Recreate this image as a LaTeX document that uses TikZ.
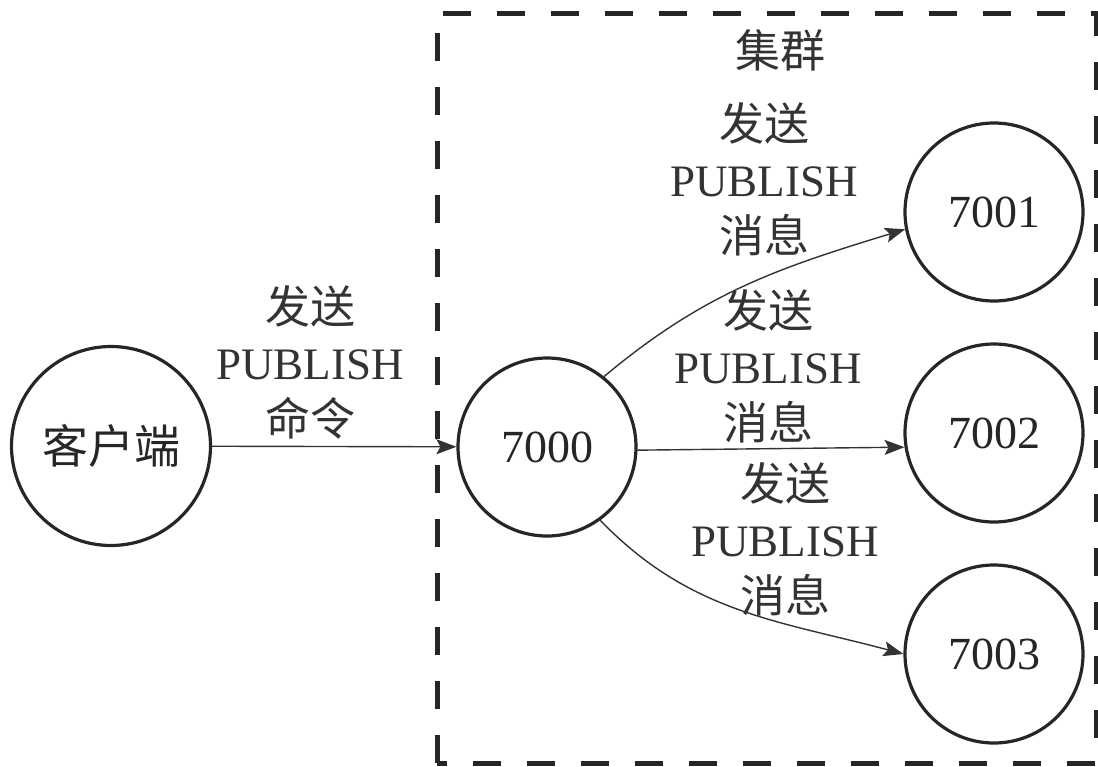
\documentclass[tikz,border=0pt]{standalone}
\usepackage{fontspec}
\setmainfont{Liberation Serif}
\newfontfamily\cjk{Noto Sans CJK SC}
\usetikzlibrary{arrows.meta}
\begin{document}
\begin{tikzpicture}[x=1pt,y=1pt,
  nd/.style={circle,draw=black!85,line width=3.2pt,minimum size=178pt,inner sep=0pt,text=black!85,font=\fontsize{46}{56}\selectfont},
  lbl/.style={align=center,inner sep=0pt,text=black!80,font=\fontsize{45}{56}\selectfont},
  conn/.style={line width=1.4pt,draw=black!80,-{Stealth[length=20pt,width=15pt,inset=4pt]}},
  clusterbox/.style={draw=black!85,line width=5pt,dash pattern=on 28pt off 26pt}]
\useasboundingbox (0,0) rectangle (1098,-766);
\draw[clusterbox] (437,-763) -- (437,-13) -- (1096,-13) -- (1096,-763) -- cycle;
\node[lbl] (title) at (780,-50) {\cjk 集群};
\node[nd,minimum size=199pt] (client) at (111,-446) {\cjk 客户端};
\node[nd] (n7000) at (547,-447) {7000};
\node[nd] (n7001) at (994,-212) {7001};
\node[nd] (n7002) at (994,-433) {7002};
\node[nd] (n7003) at (994,-654) {7003};
\draw[conn] (client) -- (n7000);
\draw[conn] (n7000.51) to[out=40,in=197] (n7001.191);
\draw[conn] (n7000.-2) -- (n7002.189);
\draw[conn] (n7000.-54) to[out=-46,in=165] (n7003.west);
\node[lbl] (l0) at (310,-362) {{\cjk 发送}\\PUBLISH\\{\cjk 命令}};
\node[lbl] (l1) at (764,-179) {{\cjk 发送}\\PUBLISH\\{\cjk 消息}};
\node[lbl] (l2) at (768,-366) {{\cjk 发送}\\PUBLISH\\{\cjk 消息}};
\node[lbl] (l3) at (785,-539) {{\cjk 发送}\\PUBLISH\\{\cjk 消息}};
\end{tikzpicture}
\end{document}
